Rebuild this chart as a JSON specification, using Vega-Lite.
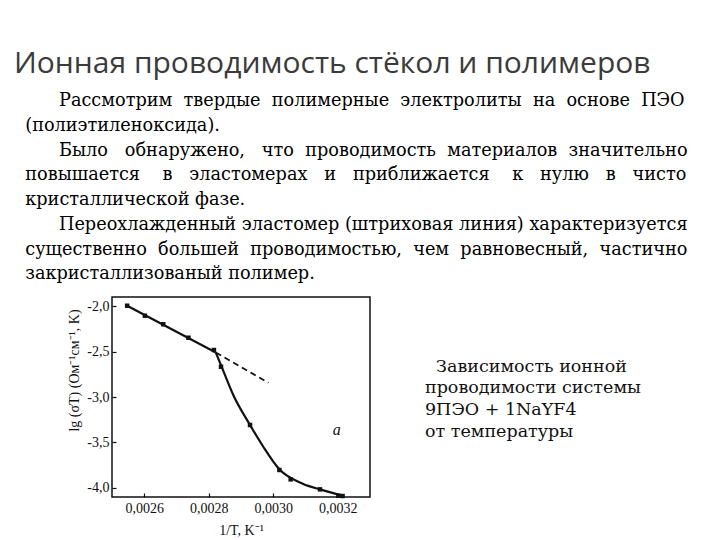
{
  "$schema": "https://vega.github.io/schema/vega-lite/v6.json",
  "width": 258,
  "height": 200,
  "autosize": {"type": "none"},
  "padding": {"left": 112, "top": 297, "right": 350, "bottom": 43},
  "background": "white",
  "title": {
    "text": "Ионная проводимость стёкол и полимеров",
    "subtitle": [
      "\u200b\u00a0\u00a0\u00a0\u00a0\u00a0\u00a0\u00a0\u00a0Рассмотрим \u00a0твердые \u00a0полимерные \u00a0электролиты \u00a0на \u00a0основе \u00a0ПЭО",
      "\u200b\u00a0\u00a0(полиэтиленоксида).",
      "\u200b\u00a0\u00a0\u00a0\u00a0\u00a0\u00a0\u00a0\u00a0Было \u00a0\u00a0обнаружено, \u00a0\u00a0что \u00a0проводимость \u00a0материалов \u00a0значительно",
      "\u200b\u00a0\u00a0повышается \u00a0\u00a0\u00a0в \u00a0\u00a0эластомерах \u00a0\u00a0и \u00a0\u00a0приближается \u00a0\u00a0\u00a0к \u00a0\u00a0нулю \u00a0\u00a0в \u00a0\u00a0чисто",
      "\u200b\u00a0\u00a0кристаллической фазе.",
      "\u200b\u00a0\u00a0\u00a0\u00a0\u00a0\u00a0\u00a0\u00a0Переохлажденный эластомер (штриховая линия) характеризуется",
      "\u200b\u00a0\u00a0существенно \u00a0большей \u00a0проводимостью, \u00a0чем \u00a0равновесный, \u00a0частично",
      "\u200b\u00a0\u00a0закристаллизованый полимер."
    ],
    "anchor": "start",
    "frame": "group",
    "dx": -98,
    "offset": 14,
    "font": "Open Sans",
    "fontSize": 30,
    "fontWeight": "normal",
    "color": "#3b3b3b",
    "subtitleFont": "DejaVu Serif",
    "subtitleFontSize": 17.7,
    "subtitleColor": "#000000",
    "subtitleLineHeight": 24.7,
    "subtitlePadding": 13
  },
  "datasets": {
    "pts": [
      {"x": 0.002547, "y": -1.996},
      {"x": 0.002602, "y": -2.106},
      {"x": 0.002659, "y": -2.2},
      {"x": 0.002737, "y": -2.348},
      {"x": 0.002816, "y": -2.483},
      {"x": 0.002838, "y": -2.667},
      {"x": 0.002928, "y": -3.308},
      {"x": 0.003019, "y": -3.803},
      {"x": 0.003054, "y": -3.906},
      {"x": 0.003145, "y": -4.016},
      {"x": 0.003202, "y": -4.086},
      {"x": 0.003215, "y": -4.089}
    ],
    "straight": [
      {"x": 0.002547, "y": -1.996},
      {"x": 0.002822, "y": -2.511}
    ],
    "curve": [
      {"x": 0.002822, "y": -2.511},
      {"x": 0.002842, "y": -2.685},
      {"x": 0.002876, "y": -2.978},
      {"x": 0.002928, "y": -3.308},
      {"x": 0.002969, "y": -3.547},
      {"x": 0.003019, "y": -3.796},
      {"x": 0.003093, "y": -3.957},
      {"x": 0.003145, "y": -4.016},
      {"x": 0.003217, "y": -4.089}
    ],
    "dash": [
      {"x": 0.002822, "y": -2.511},
      {"x": 0.002985, "y": -2.843}
    ],
    "panel": [
      {"x": 0.003197, "y": -3.363, "label": "a"}
    ],
    "caption": [
      {"x": 0.0034705, "y": -2.722, "label": "\u200b\u00a0\u00a0Зависимость ионной\nпроводимости системы\n9ПЭО + 1NaYF4\nот температуры"}
    ]
  },
  "layer": [
    {
      "data": {"name": "straight"},
      "mark": {"type": "line", "color": "#111111", "strokeWidth": 2.2, "interpolate": "linear"},
      "encoding": {
        "x": {
          "field": "x", "type": "quantitative",
          "scale": {"domain": [0.0025, 0.0033], "nice": false, "zero": false},
          "axis": {
            "title": "1/T, K⁻¹",
            "values": [0.0026, 0.0028, 0.003, 0.0032],
            "format": ".4f",
            "labelOverlap": false,
            "labelFlush": false,
            "grid": false, "domain": false,
            "tickSize": -4, "tickColor": "#111111", "tickWidth": 1.2,
            "labelPadding": 8, "labelFont": "Liberation Serif", "labelFontSize": 14, "labelColor": "#111111",
            "titleFont": "Liberation Serif", "titleFontSize": 14, "titleFontWeight": "normal", "titleColor": "#111111",
            "titlePadding": 8
          }
        },
        "y": {
          "field": "y", "type": "quantitative",
          "scale": {"domain": [-4.1, -1.9], "nice": false, "zero": false},
          "axis": {
            "title": "lg (σT) (Ом⁻¹см⁻¹, K)",
            "values": [-4, -3.75, -3.5, -3.25, -3, -2.75, -2.5, -2.25, -2],
            "labelExpr": "round(datum.value*4)%2==0 ? replace(replace(format(datum.value,'.1f'),'.',','),'−','-') : ''",
            "labelOverlap": false,
            "grid": false, "domain": false,
            "tickSize": -4, "tickColor": "#111111", "tickWidth": 1.2,
            "labelPadding": 7, "labelFont": "Liberation Serif", "labelFontSize": 14, "labelColor": "#111111",
            "titleFont": "Liberation Serif", "titleFontSize": 14, "titleFontWeight": "normal", "titleColor": "#111111",
            "titleY": 73, "titlePadding": 5
          }
        }
      }
    },
    {
      "data": {"name": "curve"},
      "mark": {"type": "line", "color": "#111111", "strokeWidth": 2.2, "interpolate": "monotone"},
      "encoding": {
        "x": {"field": "x", "type": "quantitative"},
        "y": {"field": "y", "type": "quantitative"}
      }
    },
    {
      "data": {"name": "dash"},
      "mark": {"type": "line", "color": "#111111", "strokeWidth": 1.8, "strokeDash": [6, 4]},
      "encoding": {
        "x": {"field": "x", "type": "quantitative"},
        "y": {"field": "y", "type": "quantitative"}
      }
    },
    {
      "data": {"name": "pts"},
      "mark": {"type": "point", "shape": "square", "filled": true, "color": "#111111", "size": 20, "opacity": 1},
      "encoding": {
        "x": {"field": "x", "type": "quantitative"},
        "y": {"field": "y", "type": "quantitative"}
      }
    },
    {
      "data": {"name": "panel"},
      "mark": {"type": "text", "font": "Liberation Serif", "fontStyle": "italic", "fontSize": 16, "color": "#111111", "align": "center", "baseline": "middle"},
      "encoding": {
        "x": {"field": "x", "type": "quantitative"},
        "y": {"field": "y", "type": "quantitative"},
        "text": {"field": "label"}
      }
    },
    {
      "data": {"name": "caption"},
      "mark": {"type": "text", "font": "DejaVu Serif", "fontSize": 17.5, "color": "#111111", "align": "left", "baseline": "alphabetic", "lineBreak": "\n", "lineHeight": 21.7},
      "encoding": {
        "x": {"field": "x", "type": "quantitative"},
        "y": {"field": "y", "type": "quantitative"},
        "text": {"field": "label"}
      }
    }
  ],
  "config": {
    "view": {"stroke": "#111111", "strokeWidth": 1.5},
    "locale": {"number": {"decimal": ",", "thousands": " ", "grouping": [3], "currency": ["", ""], "minus": "-"}}
  }
}
